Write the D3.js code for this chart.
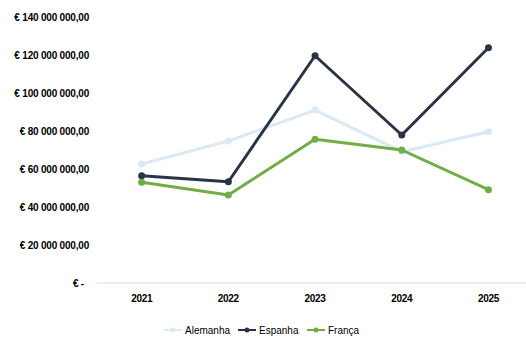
<!DOCTYPE html>
<html>
<head>
<meta charset="utf-8">
<script src="https://cdn.jsdelivr.net/npm/d3@7"></script>
<style>
  html, body { margin: 0; padding: 0; background: #fff; }
  svg { display: block; }
</style>
</head>
<body>
<svg id="chart" width="526" height="345"></svg>
<script>
// Years on the x axis
const years = ["2021", "2022", "2023", "2024", "2025"];

// Values per country (euros)
const alemanha = [62600000, 74700000, 91000000, 69100000, 79600000];
const espanha  = [56500000, 53300000, 119600000, 77900000, 123800000];
const franca   = [53000000, 46300000, 75600000, 70000000, 49100000];

// Y axis ticks
const yTicks = [0, 20000000, 40000000, 60000000, 80000000, 100000000, 120000000, 140000000];

const series = [
  { name: "Alemanha", values: alemanha, color: "#dce8f2" },
  { name: "Espanha",  values: espanha,  color: "#2b3446" },
  { name: "França",   values: franca,   color: "#70ad47" }
];

const svg = d3.select("#chart");
const font = "'Liberation Sans', Arial, sans-serif";

const x = d3.scaleBand().domain(years).range([98.3, 531.8]);
const y = d3.scaleLinear().domain([0, 140000000]).range([283, 17]);
const cx = d => x(d) + x.bandwidth() / 2;

// Euro formatting with space thousands separator and comma decimals
const fmt = v => v === 0 ? "€ -" :
  "€ " + d3.format(",.2f")(v).replace(/,/g, " ").replace(/\.(\d\d)$/, ",$1");

// Y axis labels (no line, no ticks)
const yAxis = d3.axisLeft(y).tickValues(yTicks).tickFormat(fmt).tickSize(0).tickPadding(0);
const gy = svg.append("g").attr("transform", "translate(89,0)").call(yAxis);
gy.select(".domain").remove();
gy.selectAll("text")
  .attr("font-family", font).attr("font-size", "10px").attr("font-weight", "bold")
  .attr("letter-spacing", "-0.2px").attr("fill", "#000")
  // accounting-style zero dash sits a little left of the other labels
  .attr("x", d => d === 0 ? -5 : 0);

// X axis baseline and labels
const xAxis = d3.axisBottom(x).tickSize(0).tickPadding(12);
const gx = svg.append("g").attr("transform", `translate(0,${y(0)})`).call(xAxis);
gx.select(".domain").attr("stroke", "#d9d9d9").attr("d", "M97,0H526");
gx.selectAll("text")
  .attr("font-family", font).attr("font-size", "10px").attr("font-weight", "bold")
  .attr("letter-spacing", "-0.3px").attr("fill", "#000");

// Lines and markers
const line = d3.line().x((d, i) => cx(years[i])).y(d => y(d));
series.forEach(s => {
  svg.append("path").datum(s.values)
    .attr("d", line).attr("fill", "none")
    .attr("stroke", s.color).attr("stroke-width", 3)
    .attr("stroke-linejoin", "round");
  svg.append("g").selectAll("circle").data(s.values).join("circle")
    .attr("cx", (d, i) => cx(years[i])).attr("cy", d => y(d))
    .attr("r", 3.5).attr("fill", s.color);
});

// Legend
const legendX = [164, 238, 307];
const legend = svg.append("g").attr("transform", "translate(0,330)");
series.forEach((s, i) => {
  const g = legend.append("g").attr("transform", `translate(${legendX[i]},0)`);
  g.append("line").attr("x1", 0).attr("x2", 18).attr("y1", 0).attr("y2", 0)
    .attr("stroke", s.color).attr("stroke-width", 2);
  g.append("circle").attr("cx", 9).attr("cy", 0).attr("r", 2.5).attr("fill", s.color);
  g.append("text").attr("x", 21).attr("y", 0).attr("dy", "0.35em")
    .attr("font-family", font).attr("font-size", "10px").attr("fill", "#000")
    .text(s.name);
});
</script>
</body>
</html>
